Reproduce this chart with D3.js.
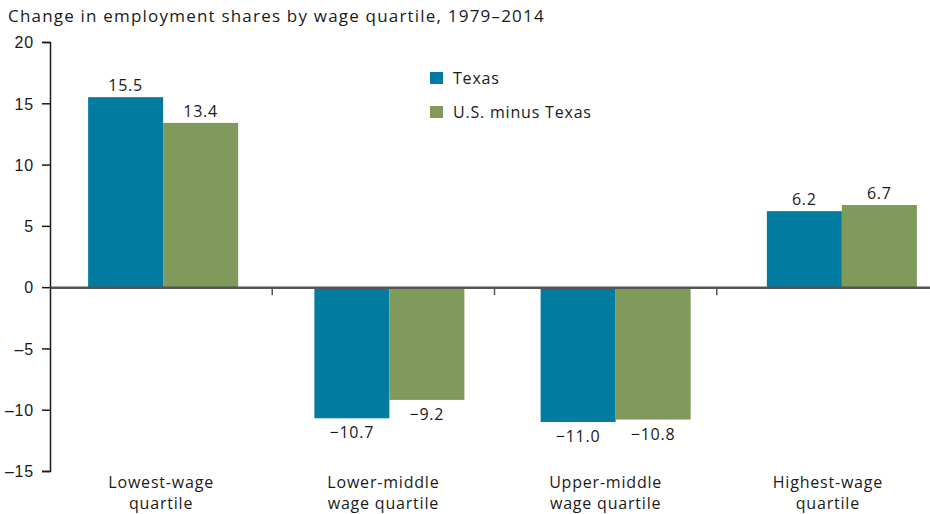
<!DOCTYPE html>
<html>
<head>
  <meta charset="utf-8">
  <title>Change in employment shares by wage quartile</title>
  <script src="https://d3js.org/d3.v7.min.js"></script>
  <style>
    body { margin: 0; background: #fff; }
    svg { display: block; font-family: "Open Sans", sans-serif; }
    .tick text { font-size: 16px; fill: #1a1a1a; letter-spacing: 0.8px; }
    .label { font-size: 16px; fill: #1a1a1a; letter-spacing: 0.8px; }
  </style>
</head>
<body>
<script>
  // Data
  var categories = [["Lowest-wage", "quartile"], ["Lower-middle", "wage quartile"],
                    ["Upper-middle", "wage quartile"], ["Highest-wage", "quartile"]];
  var seriesNames = ["Texas", "U.S. minus Texas"];
  var texas = [15.5, -10.7, -11.0, 6.2];
  var usMinusTexas = [13.4, -9.2, -10.8, 6.7];
  var yTicks = [-15, -10, -5, 0, 5, 10, 15, 20];
  var colors = ["#027ba0", "#7f9a5a"];

  var width = 930, height = 514;
  var fmt = function(v) { return d3.format(".1f")(v).replace("-", "\u2013"); };

  var svg = d3.select("body").append("svg")
      .attr("width", width).attr("height", height);

  // Title
  svg.append("text")
      .attr("x", 8).attr("y", 22)
      .style("font-size", "17px").style("fill", "#1a1a1a")
      .style("letter-spacing", "1.2px")
      .text("Change in employment shares by wage quartile, 1979\u20132014");

  // Scales
  var y = d3.scaleLinear().domain([-15, 20]).range([471, 42]);
  var idx = d3.range(categories.length);
  // axis bands
  var xAxisScale = d3.scaleBand().domain(idx).range([50, 939]);
  // bar groups
  var x0 = d3.scaleBand().domain(idx).range([50, 955]).paddingInner(0.337).paddingOuter(0.1685);
  var x1 = d3.scaleBand().domain(d3.range(seriesNames.length)).range([0, x0.bandwidth()]);

  // Y axis
  var yAxis = svg.append("g")
      .attr("transform", "translate(50,0)")
      .call(d3.axisLeft(y).tickValues(yTicks).tickSize(8).tickPadding(8)
              .tickFormat(function(d) { return String(d).replace("-", "\u2013"); }));
  yAxis.select(".domain").attr("stroke", "#1a1a1a").attr("stroke-width", 1.5);
  yAxis.selectAll(".tick line").attr("stroke", "#1a1a1a").attr("stroke-width", 1.5);
  yAxis.selectAll(".tick text").attr("dy", "0.36em");

  // Bars
  var data = idx.map(function(i) { return [texas[i], usMinusTexas[i]]; });
  var group = svg.selectAll(".grp")
      .data(data).enter().append("g")
      .attr("class", "grp")
      .attr("transform", function(d, i) { return "translate(" + x0(i) + ",0)"; });

  group.selectAll("rect")
      .data(function(d) { return d; })
      .enter().append("rect")
      .attr("x", function(d, j) { return x1(j); })
      .attr("y", function(d) { return y(Math.max(0, d)); })
      .attr("width", x1.bandwidth())
      .attr("height", function(d) { return Math.abs(y(d) - y(0)); })
      .attr("fill", function(d, j) { return colors[j]; });

  group.selectAll(".label")
      .data(function(d) { return d; })
      .enter().append("text")
      .attr("class", "label")
      .attr("text-anchor", "middle")
      .attr("x", function(d, j) { return x1(j) + x1.bandwidth() / 2; })
      .attr("y", function(d) { return d >= 0 ? y(d) - 6 : y(d) + 20; })
      .text(function(d) { return fmt(d); });

  // X axis along zero
  var xAxis = svg.append("g")
      .attr("transform", "translate(0," + y(0) + ")")
      .call(d3.axisBottom(xAxisScale).tickSize(0).tickFormat(""));
  xAxis.select(".domain").attr("stroke", "#555").attr("stroke-width", 2.5);
  xAxis.selectAll(".tick").remove();
  xAxis.selectAll(".sep")
      .data(idx.slice(1)).enter().append("line")
      .attr("x1", function(i) { return xAxisScale(i); })
      .attr("x2", function(i) { return xAxisScale(i); })
      .attr("y1", 0).attr("y2", 8)
      .attr("stroke", "#555").attr("stroke-width", 1.5);

  // Category labels
  var catLabel = svg.selectAll(".cat")
      .data(categories).enter().append("text")
      .attr("class", "label")
      .attr("text-anchor", "middle")
      .attr("transform", function(d, i) {
        return "translate(" + (xAxisScale(i) + xAxisScale.bandwidth() / 2) + ",488)";
      });
  catLabel.selectAll("tspan")
      .data(function(d) { return d; })
      .enter().append("tspan")
      .attr("x", 0)
      .attr("dy", function(d, k) { return k === 0 ? 0 : 21; })
      .text(function(d) { return d; });

  // Legend
  var legend = svg.selectAll(".legend")
      .data(seriesNames).enter().append("g")
      .attr("transform", function(d, i) { return "translate(430," + (72 + i * 34) + ")"; });
  legend.append("rect")
      .attr("width", 13).attr("height", 12)
      .attr("fill", function(d, i) { return colors[i]; });
  legend.append("text")
      .attr("class", "label")
      .attr("x", 23).attr("y", 12)
      .text(function(d) { return d; });
</script>
</body>
</html>
